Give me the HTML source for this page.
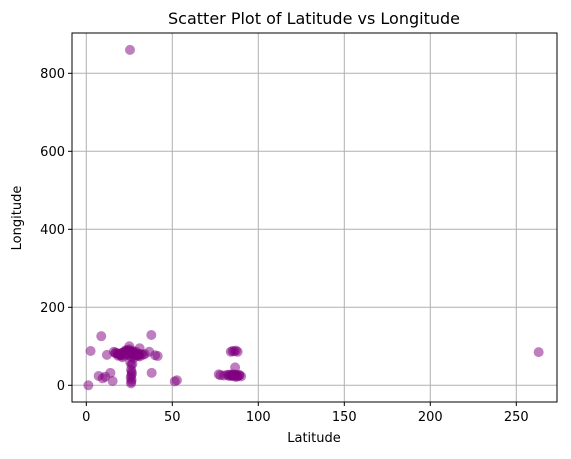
<!DOCTYPE html>
<html><head><meta charset="utf-8"><style>
body{margin:0;background:#fff;font-family:"DejaVu Sans","Liberation Sans",sans-serif;}
</style></head><body>
<svg width="571" height="455" xmlns="http://www.w3.org/2000/svg" font-family="DejaVu Sans, Liberation Sans, sans-serif">
<text x="314" y="24" text-anchor="middle" font-size="16">Scatter Plot of Latitude vs Longitude</text>
<g id="grid"></g>
<g id="pts"></g>
<rect x="72" y="33" width="485" height="369" fill="none" stroke="#000" stroke-width="1"/>
<g id="ticks"></g>
<text x="314" y="442" text-anchor="middle" font-size="13">Latitude</text>
<text transform="translate(21,218) rotate(-90)" text-anchor="middle" font-size="13">Longitude</text>
</svg>
<script>
const xTicks=[0,50,100,150,200,250];
const yTicks=[0,200,400,600,800];
const lat=[1.2,2.5,8.7,7.2,9.5,11,14,15.3,12,25,31,37.8,36.6,41.5,38,26.2,26.2,26.2,26.2,51.4,52.7,25.4,263,
16,17,18,19,20,21,22,23,24,25,26,27,28,29,30,31,32,18.5,20.5,22.5,24.5,26.5,28.5,30.5,23,25,27,29,34,40,21,27.5,25.5,26.8,
17,19,21,23,25,27,29,31,33,20,22,24,26,28,30,26,26.5,25.8,26.3,26,26.4,
84,85,86,87,88,86.5,77,78,80,82,83,84,85,86,87,88,89,90,85.5,86.5,87.5,84.5,83,85,87,89];
const lon=[0,88,126,24,18,22,32,11,78,100,95,129,86,75,32,73,52,26,9,10,13,860,85,
86,84,82,80,78,83,85,88,90,86,84,82,80,78,76,74,80,76,78,80,82,84,82,79,90,92,88,86,80,77,72,70,60,55,
82,80,84,86,88,86,82,80,78,76,76,78,80,78,76,40,30,20,15,5,35,
86,88,87,89,86,46,28,26,25,27,24,26,25,27,26,24,26,23,25,22,22,24,27,28,27,26];
const X=v=>86.3+v*1.72, Y=v=>385.3-v*0.39;
const ns="http://www.w3.org/2000/svg";
const grid=document.getElementById('grid'),ticks=document.getElementById('ticks'),pts=document.getElementById('pts');
function mk(tag,attrs,parent){const e=document.createElementNS(ns,tag);for(const k in attrs)e.setAttribute(k,attrs[k]);parent.appendChild(e);return e;}
xTicks.forEach(t=>{
 const gl=mk('line',{x1:X(t),x2:X(t),y1:33,y2:402,stroke:'#b0b0b0','stroke-width':1},grid);
 
 
 mk('line',{x1:X(t),x2:X(t),y1:402,y2:406,stroke:'#000'},ticks);
 const tx=mk('text',{x:X(t),y:421,'text-anchor':'middle','font-size':'13'},ticks);tx.textContent=t;
 
 
});
yTicks.forEach(t=>{
 const gl=mk('line',{x1:72,x2:557,y1:Y(t),y2:Y(t),stroke:'#b0b0b0','stroke-width':1},grid);
 
 
 mk('line',{x1:68,x2:72,y1:Y(t),y2:Y(t),stroke:'#000'},ticks);
 const tx=mk('text',{x:65,y:Y(t)+4.5,'text-anchor':'end','font-size':'13'},ticks);tx.textContent=t;
 
 
});
lat.forEach((v,i)=>{
 const c=mk('circle',{cx:X(v),cy:Y(lon[i]),r:5,fill:'purple','fill-opacity':0.5},pts);
 
 
});
</script>
</body></html>
